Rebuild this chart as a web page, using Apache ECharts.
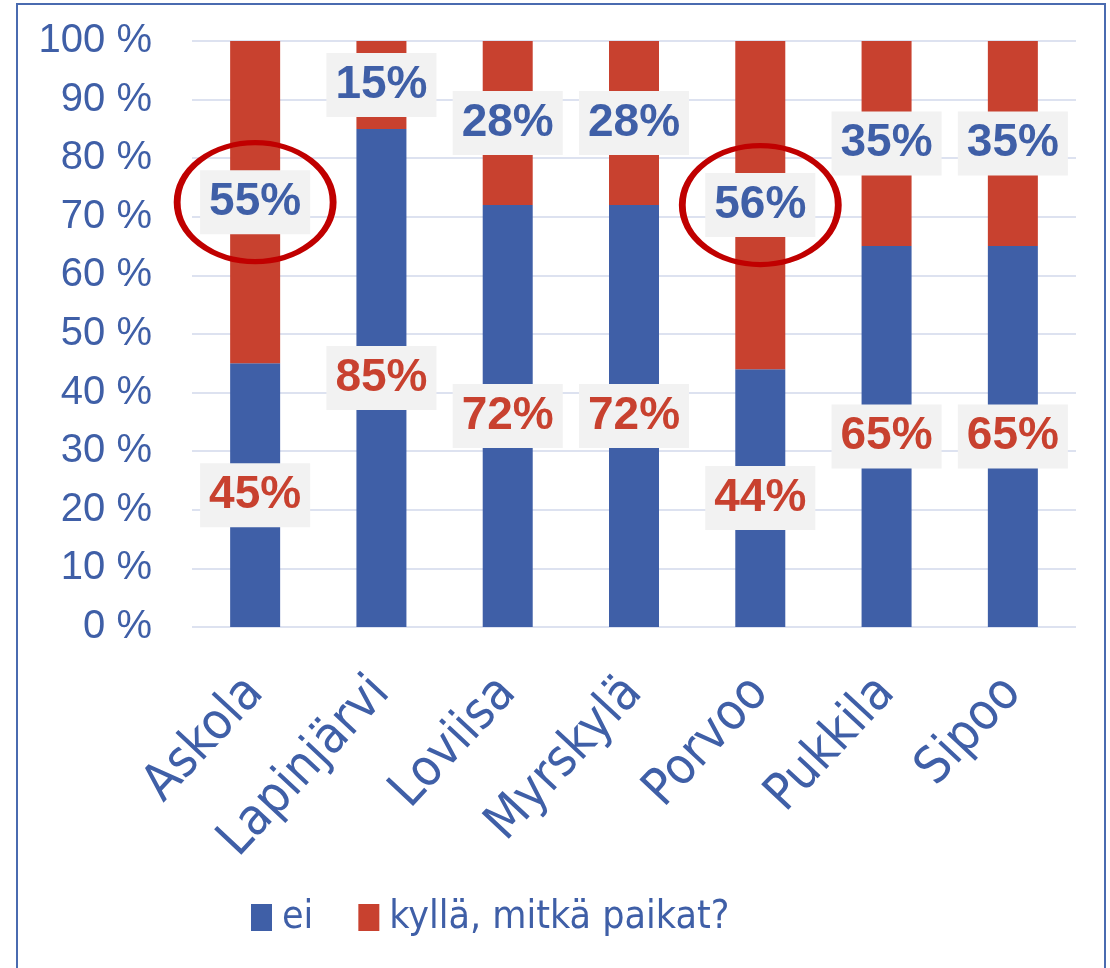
<!DOCTYPE html>
<html lang="fi">
<head>
    <meta charset="UTF-8">
    <title>ei / kyllä</title>
    <script src="https://cdn.jsdelivr.net/npm/echarts@6/dist/echarts.min.js"></script>
    <style>
        *{
            margin: 0;
            padding: 0;
        }
        #box{
            width: 1110px;
            height: 968px;
            background: #fff;
        }
    </style>
</head>
<body>
<div id="box"></div>
<script type="text/javascript">
    // data
    let kunnat = ['Askola', 'Lapinjärvi', 'Loviisa', 'Myrskylä', 'Porvoo', 'Pukkila', 'Sipoo'];
    let ei = [45, 85, 72, 72, 44, 65, 65];
    let kylla = [55, 15, 28, 28, 56, 35, 35];
    let ympyrat = ['Askola', 'Porvoo'];   // circled labels

    let blue = '#3F5FA7';
    let red = '#C8412F';
    let font = 'Arial, "Liberation Sans", sans-serif';
    let narrow = '"DejaVu Sans Condensed", sans-serif';

    let chart = echarts.init(document.getElementById('box'));

    let labelStyle = function (color) {
        return {
            show: true,
            position: 'inside',
            formatter: '{c}%',
            color: color,
            fontFamily: font,
            fontWeight: 'bold',
            fontSize: 46,
            lineHeight: 54,
            backgroundColor: '#F2F2F2',
            padding: [5, 9]
        };
    };

    // ellipse centred on the kyllä segment
    let marks = ympyrat.map(function (k) {
        let i = kunnat.indexOf(k);
        return {coord: [k, ei[i] + kylla[i] / 2]};
    });

    let option = {
        animation: false,
        textStyle: {fontFamily: font},
        graphic: [{
            type: 'rect',
            shape: {x: 17, y: 4, width: 1088, height: 1000},
            style: {fill: 'none', stroke: '#4A6BB0', lineWidth: 2},
            silent: true
        }],
        grid: {
            left: 192,
            right: 34,
            top: 41,
            bottom: 341
        },
        legend: {
            left: 251,
            top: 898,
            padding: 0,
            icon: 'rect',
            itemWidth: 21,
            itemHeight: 27,
            itemGap: 45,
            textStyle: {
                color: blue,
                fontSize: 39,
                fontFamily: narrow,
                padding: [0, 0, 0, 5]
            },
            data: ['ei', 'kyllä, mitkä paikat?']
        },
        xAxis: {
            type: 'category',
            data: kunnat,
            axisLine: {show: false},
            axisTick: {show: false},
            axisLabel: {
                rotate: 47,
                margin: 58,
                color: blue,
                fontSize: 51,
                fontFamily: narrow,
                interval: 0
            }
        },
        yAxis: {
            type: 'value',
            min: 0,
            max: 100,
            interval: 10,
            axisLine: {show: false},
            axisTick: {show: false},
            axisLabel: {
                formatter: '{value} %',
                color: blue,
                fontSize: 40,
                fontFamily: font,
                margin: 40
            },
            splitLine: {
                lineStyle: {color: '#DDE2F0', width: 2}
            }
        },
        series: [
            {
                name: 'ei',
                type: 'bar',
                stack: 'a',
                barWidth: 50,
                data: ei,
                itemStyle: {color: blue},
                label: labelStyle(red)
            },
            {
                name: 'kyllä, mitkä paikat?',
                type: 'bar',
                stack: 'a',
                barWidth: 50,
                data: kylla,
                itemStyle: {color: red},
                label: labelStyle(blue),
                markPoint: {
                    symbol: 'circle',
                    symbolSize: [156, 119],
                    silent: true,
                    itemStyle: {
                        color: 'rgba(0,0,0,0)',
                        borderColor: '#C00000',
                        borderWidth: 6
                    },
                    label: {show: false},
                    data: marks
                }
            }
        ]
    };
    chart.setOption(option);
</script>
</body>
</html>
